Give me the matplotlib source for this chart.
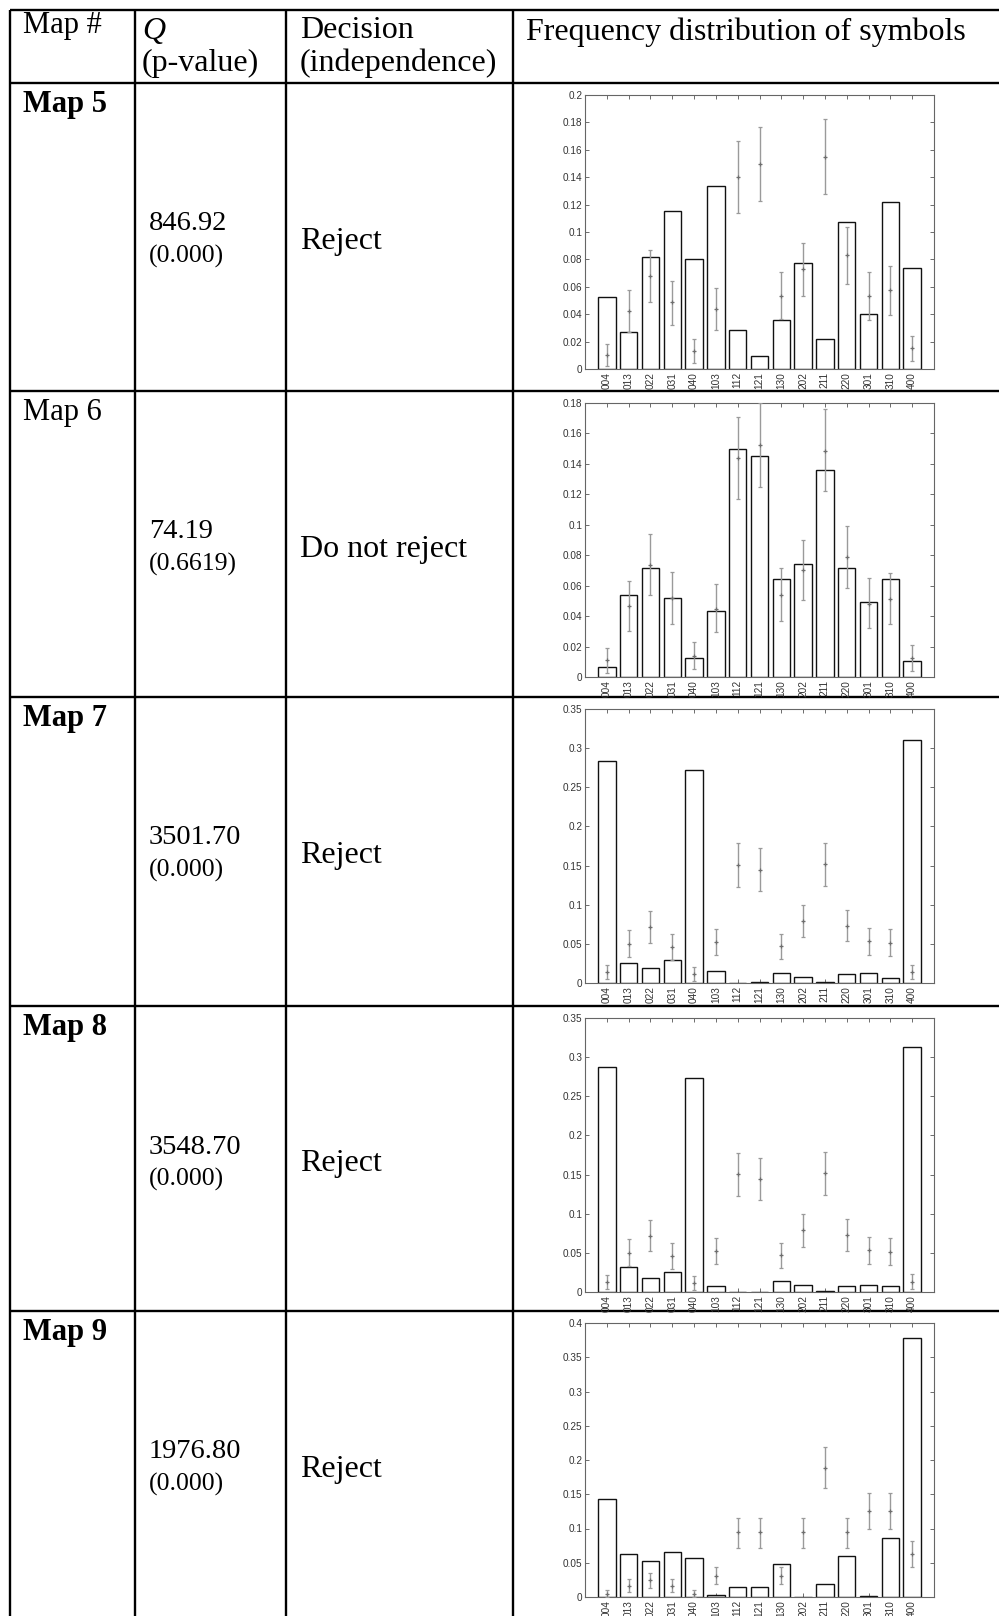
import matplotlib
matplotlib.use('Agg')
import matplotlib.pyplot as plt
import numpy as np
from matplotlib.ticker import FuncFormatter, MultipleLocator

# ---------------- data ----------------
symbols = ['004', '013', '022', '031', '040', '103', '112', '121', '130',
           '202', '211', '220', '301', '310', '400']

map_names = ['Map 5', 'Map 6', 'Map 7', 'Map 8', 'Map 9']
map_bold = [True, False, True, True, True]
q_values = ['846.92', '74.19', '3501.70', '3548.70', '1976.80']
p_values = ['(0.000)', '(0.6619)', '(0.000)', '(0.000)', '(0.000)']
decisions = ['Reject', 'Do not reject', 'Reject', 'Reject', 'Reject']

# observed frequencies (bars)
map5_obs = [0.0525, 0.027, 0.0819, 0.115, 0.080, 0.1334, 0.0287, 0.0092, 0.0357, 0.0773, 0.0219, 0.107, 0.0403, 0.1217, 0.0734]
map6_obs = [0.0063, 0.0536, 0.0717, 0.052, 0.0122, 0.0431, 0.150, 0.1452, 0.0641, 0.0741, 0.1363, 0.0717, 0.049, 0.0641, 0.0105]
map7_obs = [0.284, 0.0255, 0.0196, 0.029, 0.2716, 0.0153, 0.0, 0.0013, 0.0123, 0.0081, 0.0013, 0.0115, 0.0123, 0.0064, 0.31]
map8_obs = [0.287, 0.0319, 0.0183, 0.0255, 0.2737, 0.0077, 0.0, 0.0, 0.0136, 0.0085, 0.0017, 0.0077, 0.0085, 0.0077, 0.3133]
map9_obs = [0.1428, 0.0628, 0.0521, 0.0653, 0.057, 0.0029, 0.0146, 0.0146, 0.0477, 0.0, 0.0185, 0.0594, 0.0015, 0.0857, 0.378]

# expected frequencies under independence (error bar centre, low, high)
map5_exp = [0.010, 0.0425, 0.0678, 0.0486, 0.0129, 0.0437, 0.140, 0.150, 0.0532, 0.0731, 0.1546, 0.0831, 0.0532, 0.0574, 0.0151]
map5_lo = [0.0024, 0.027, 0.049, 0.032, 0.0044, 0.0284, 0.1142, 0.1227, 0.0367, 0.0532, 0.1276, 0.062, 0.036, 0.0396, 0.0058]
map5_hi = [0.018, 0.0576, 0.087, 0.0644, 0.0219, 0.0593, 0.1665, 0.177, 0.0705, 0.0921, 0.1823, 0.1035, 0.0705, 0.0751, 0.0243]

map6_exp = [0.0109, 0.0468, 0.0735, 0.052, 0.014, 0.045, 0.1437, 0.1522, 0.0536, 0.0704, 0.1487, 0.079, 0.0481, 0.0514, 0.0125]
map6_lo = [0.0028, 0.0304, 0.0538, 0.035, 0.0052, 0.0297, 0.1172, 0.1251, 0.0365, 0.0505, 0.1223, 0.0582, 0.0319, 0.0346, 0.0039]
map6_hi = [0.019, 0.0628, 0.094, 0.0691, 0.0232, 0.061, 0.1708, 0.18, 0.0713, 0.0897, 0.1763, 0.0993, 0.0652, 0.068, 0.0208]

map7_exp = [0.0136, 0.0502, 0.0715, 0.0464, 0.0115, 0.0524, 0.1511, 0.1447, 0.0473, 0.0792, 0.1524, 0.0728, 0.0536, 0.0515, 0.0136]
map7_lo = [0.0051, 0.0332, 0.0515, 0.0294, 0.003, 0.0358, 0.123, 0.1175, 0.0302, 0.0583, 0.1243, 0.0536, 0.0358, 0.0349, 0.0051]
map7_hi = [0.023, 0.0677, 0.092, 0.063, 0.0209, 0.0694, 0.1784, 0.1728, 0.063, 0.1, 0.1792, 0.0928, 0.0702, 0.0685, 0.023]

map8_exp = [0.0132, 0.0498, 0.0715, 0.0464, 0.011, 0.0524, 0.1507, 0.1443, 0.0473, 0.0788, 0.152, 0.0728, 0.0532, 0.0511, 0.0132]
map8_lo = [0.0043, 0.0332, 0.0519, 0.0298, 0.0026, 0.0358, 0.123, 0.1171, 0.0302, 0.0579, 0.1239, 0.0528, 0.0358, 0.0345, 0.0043]
map8_hi = [0.022, 0.0673, 0.0924, 0.063, 0.02, 0.0694, 0.178, 0.1716, 0.063, 0.0996, 0.1792, 0.0928, 0.0702, 0.069, 0.0234]

map9_exp = [0.0044, 0.0166, 0.0248, 0.0166, 0.0044, 0.0312, 0.095, 0.095, 0.0312, 0.095, 0.1885, 0.095, 0.1252, 0.1252, 0.063]
map9_lo = [0.0, 0.0068, 0.0136, 0.0068, 0.0, 0.0185, 0.0721, 0.0721, 0.0185, 0.0721, 0.1588, 0.0721, 0.0999, 0.0999, 0.044]
map9_hi = [0.0102, 0.0263, 0.0356, 0.0263, 0.0102, 0.0443, 0.116, 0.116, 0.0443, 0.116, 0.2188, 0.116, 0.1515, 0.1515, 0.082]

y_max = [0.2, 0.18, 0.35, 0.35, 0.4]
y_step = [0.02, 0.02, 0.05, 0.05, 0.05]

obs_all = [map5_obs, map6_obs, map7_obs, map8_obs, map9_obs]
exp_all = [map5_exp, map6_exp, map7_exp, map8_exp, map9_exp]
lo_all = [map5_lo, map6_lo, map7_lo, map8_lo, map9_lo]
hi_all = [map5_hi, map6_hi, map7_hi, map8_hi, map9_hi]

# ---------------- layout ----------------
W, H = 999, 1616
fig = plt.figure(figsize=(W / 100, H / 100), dpi=100)
fig.patch.set_facecolor('white')

ov = fig.add_axes([0, 0, 1, 1], zorder=0)
ov.set_xlim(0, W)
ov.set_ylim(H, 0)
ov.axis('off')

serif = 'Liberation Serif'
sans = 'Liberation Sans'
big = 23
map_fs = 22
num_fs = 20.5
p_fs = 18.5

table_top = 9.5
row_tops = [83, 391, 697, 1006, 1311]
col_x = [9.5, 135, 286, 513]
line_w = 1.7

ov.plot([col_x[0], W], [table_top, table_top], color='black', lw=line_w, solid_capstyle='butt')
for y in row_tops:
    ov.plot([col_x[0], W], [y, y], color='black', lw=line_w, solid_capstyle='butt')
for x in col_x:
    ov.plot([x, x], [table_top, H], color='black', lw=line_w, solid_capstyle='butt')

# header
ov.text(23, 25, 'Map #', family=serif, fontsize=map_fs, va='center', ha='left')
ov.text(142, 32, 'Q', family=serif, style='italic', fontsize=big, va='center', ha='left')
ov.text(142, 63, '(p-value)', family=serif, fontsize=big, va='center', ha='left')
ov.text(300, 31, 'Decision', family=serif, fontsize=big, va='center', ha='left')
ov.text(300, 63, '(independence)', family=serif, fontsize=big, va='center', ha='left')
ov.text(526, 32, 'Frequency distribution of symbols', family=serif, fontsize=big,
        va='center', ha='left')

for i, top in enumerate(row_tops):
    ov.text(23, top + 29, map_names[i], family=serif, fontsize=map_fs,
            fontweight='bold' if map_bold[i] else 'normal', va='baseline', ha='left')
    ov.text(149, top + 141, q_values[i], family=serif, fontsize=num_fs,
            va='center', ha='left')
    ov.text(149, top + 173, p_values[i], family=serif, fontsize=p_fs,
            va='center', ha='left')
    ov.text(300, top + 158, decisions[i], family=serif, fontsize=big,
            va='center', ha='left')

# charts
ax_left, ax_right = 585, 934
fmt = FuncFormatter(lambda v, p: '%g' % round(v, 4))
xpos = np.arange(1, len(symbols) + 1)

for i, top in enumerate(row_tops):
    ax_top = top + 12
    ax_bot = top + 286
    ax = fig.add_axes([ax_left / W, 1 - ax_bot / H, (ax_right - ax_left) / W,
                       (ax_bot - ax_top) / H], zorder=2)
    ax.set_facecolor('white')
    obs = np.array(obs_all[i])
    ex = np.array(exp_all[i])
    lo = np.array(lo_all[i])
    hi = np.array(hi_all[i])
    ax.bar(xpos, obs, width=0.8, color='white', edgecolor='#111111', linewidth=1.0, zorder=2)
    ax.errorbar(xpos, ex, yerr=[ex - lo, hi - ex], fmt='+', color='#6e6e6e',
                ecolor='#9a9a9a', elinewidth=1.0, capsize=1.6, capthick=0.9,
                ms=3.5, mew=0.9, zorder=3)
    ax.set_xlim(0, 16)
    ax.set_ylim(0, y_max[i])
    ax.yaxis.set_major_locator(MultipleLocator(y_step[i]))
    ax.yaxis.set_major_formatter(fmt)
    ax.set_xticks(xpos)
    ax.set_xticklabels(symbols, rotation=90, family=sans, fontsize=7.2, color='#333333')
    for lab in ax.get_yticklabels():
        lab.set_family(sans)
    ax.tick_params(direction='in', length=3, width=0.6, colors='#555555',
                   labelcolor='#333333', top=True, right=True, labelsize=7.2, pad=2)
    for s in ax.spines.values():
        s.set_color('#666666')
        s.set_linewidth(0.8)

fig.savefig('out.png', dpi=100, facecolor='white')
